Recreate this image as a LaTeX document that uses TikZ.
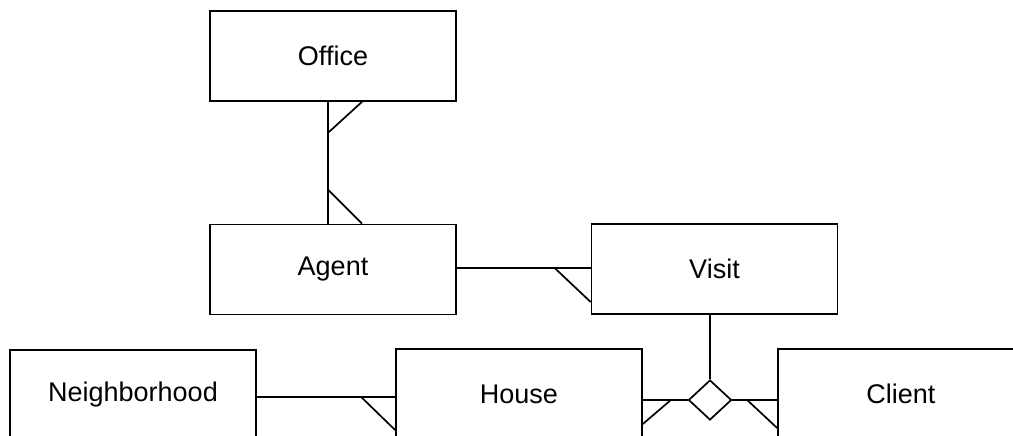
\documentclass[tikz,border=0pt]{standalone}
\usepackage{fontspec}
\setmainfont{Liberation Sans}
\usetikzlibrary{shapes.geometric}

\tikzset{
  entity/.style={draw,line width=1.7pt,minimum width=246pt,minimum height=90pt,inner sep=0pt,font=\fontsize{27}{32}\selectfont},
  rel/.style={draw,diamond,line width=1.7pt,minimum width=43pt,minimum height=40pt,inner sep=0pt},
  link/.style={line width=1.7pt}
}

\begin{document}
\begin{tikzpicture}[x=1pt,y=-1pt]
  \useasboundingbox (0,0) rectangle (1013,436);
  \clip (0,0) rectangle (1013,436);
  % entities
  \node[entity] (office) at (333,56) {Office};
  \node[entity] (agent) at (333,269.5) {Agent};
  \node[entity] (visit) at (714.5,269) {Visit};
  \node[entity] (hood) at (133,395) {Neighborhood};
  \node[entity] (house) at (519,394) {House};
  \node[entity] (client) at (901,394) {Client};
  \node[rel] (dia) at (710,400) {};
  % office -- agent
  \draw[link] ([xshift=-5pt]office.south) -- ([xshift=-5pt]agent.north);
  \draw[link] ([xshift=29pt]office.south) -- ++(-34,31);
  \draw[link] ([xshift=29pt]agent.north) -- ++(-34,-34);
  % agent -- visit
  \draw[link] ([yshift=1.5pt]agent.east) coordinate (av) -- (av -| visit.west);
  \draw[link] ([yshift=-33pt]visit.west) -- ++(-36,-34);
  % neighborhood -- house
  \draw[link] ([yshift=-2pt]hood.east) coordinate (nh) -- (nh -| house.west);
  \draw[link] ([yshift=-36pt]house.west) -- ++(-34,-33);
  % visit, house, client -- diamond
  \draw[link] (visit.south -| dia.north) -- (dia.north);
  \draw[link] (house.east |- dia.west) -- (dia.west);
  \draw[link] ([yshift=-30pt]house.east) -- ++(28,-24);
  \draw[link] (dia.east) -- (dia.east -| client.west);
  \draw[link] ([yshift=-34pt]client.west) -- ++(-30,-28);
\end{tikzpicture}
\end{document}
